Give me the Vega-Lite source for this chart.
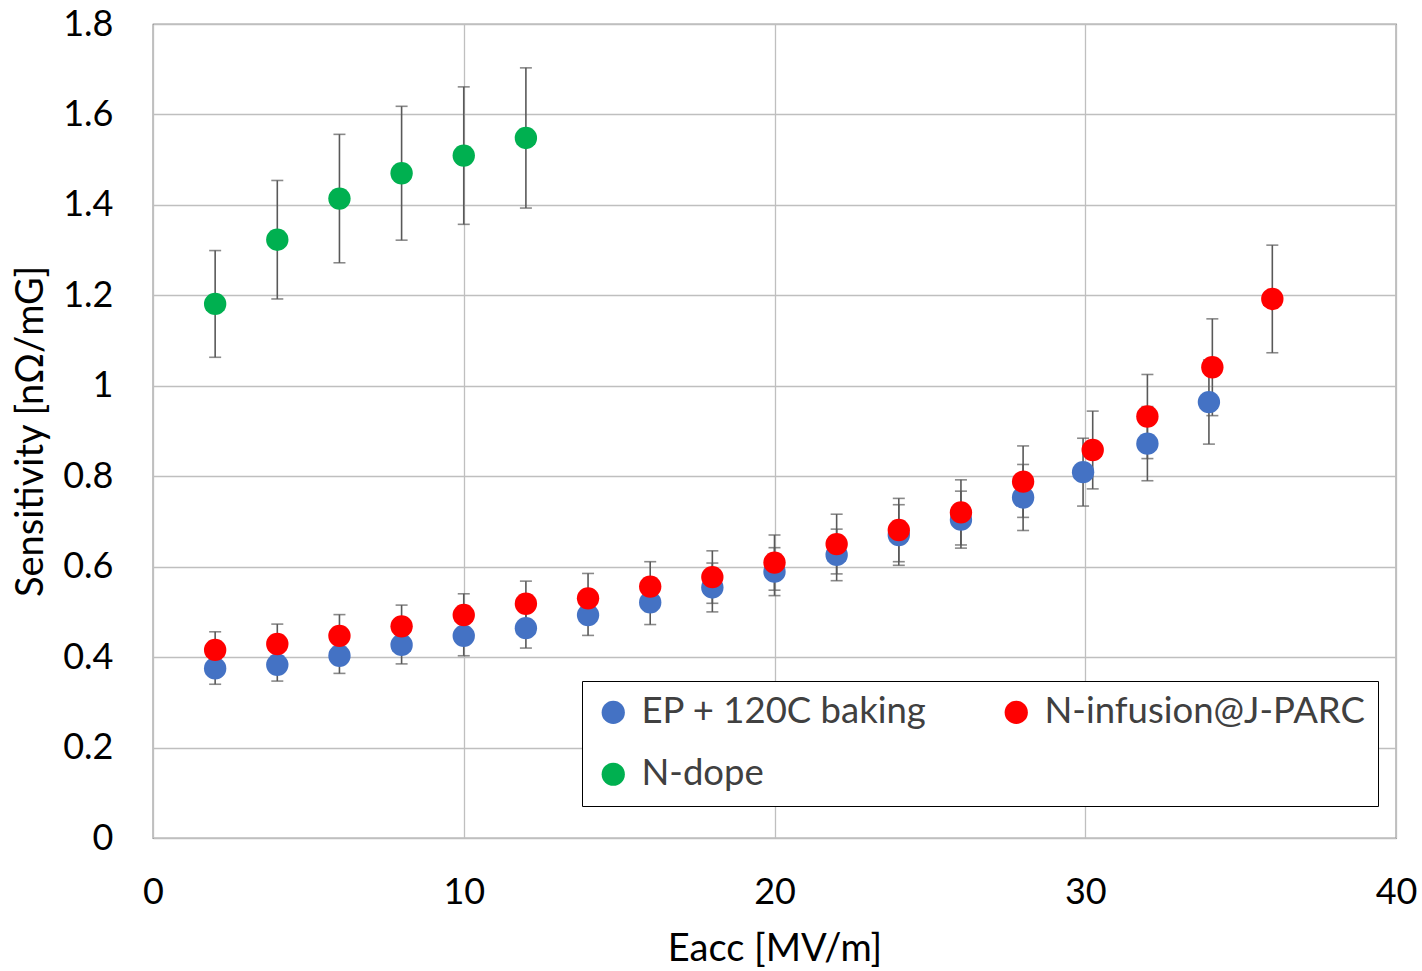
{
  "$schema": "https://vega.github.io/schema/vega-lite/v6.json",
  "autosize": "none",
  "width": 1243,
  "height": 814,
  "padding": {"left": 153, "top": 24, "right": 26, "bottom": 133},
  "background": "white",
  "config": {
    "font": "Lato",
    "view": {"stroke": "#404040", "strokeWidth": 1.2},
    "axis": {
      "labelFont": "Lato",
      "titleFont": "Lato",
      "labelFontSize": 36,
      "titleFontSize": 38,
      "labelColor": "#000000",
      "titleColor": "#000000",
      "titleFontWeight": "normal",
      "gridColor": "#BFBFBF",
      "gridWidth": 1.3,
      "ticks": false,
      "domain": false,
      "labelFlush": false,
      "labelOverlap": false
    }
  },
  "data": {
    "values": [
      {"series": "EP + 120C baking", "eacc": 2, "sens": 0.375, "err": 0.035},
      {"series": "EP + 120C baking", "eacc": 4, "sens": 0.383, "err": 0.036},
      {"series": "EP + 120C baking", "eacc": 6, "sens": 0.403, "err": 0.039},
      {"series": "EP + 120C baking", "eacc": 8, "sens": 0.427, "err": 0.042},
      {"series": "EP + 120C baking", "eacc": 10, "sens": 0.447, "err": 0.044},
      {"series": "EP + 120C baking", "eacc": 12, "sens": 0.464, "err": 0.044},
      {"series": "EP + 120C baking", "eacc": 14, "sens": 0.493, "err": 0.045},
      {"series": "EP + 120C baking", "eacc": 16, "sens": 0.521, "err": 0.049},
      {"series": "EP + 120C baking", "eacc": 18, "sens": 0.554, "err": 0.054},
      {"series": "EP + 120C baking", "eacc": 20, "sens": 0.589, "err": 0.053},
      {"series": "EP + 120C baking", "eacc": 22, "sens": 0.626, "err": 0.057},
      {"series": "EP + 120C baking", "eacc": 24, "sens": 0.670, "err": 0.067},
      {"series": "EP + 120C baking", "eacc": 26, "sens": 0.704, "err": 0.063},
      {"series": "EP + 120C baking", "eacc": 28, "sens": 0.753, "err": 0.073},
      {"series": "EP + 120C baking", "eacc": 29.93, "sens": 0.809, "err": 0.075},
      {"series": "EP + 120C baking", "eacc": 32, "sens": 0.872, "err": 0.082},
      {"series": "EP + 120C baking", "eacc": 33.98, "sens": 0.964, "err": 0.093},
      {"series": "N-infusion@J-PARC", "eacc": 2, "sens": 0.416, "err": 0.040},
      {"series": "N-infusion@J-PARC", "eacc": 4, "sens": 0.429, "err": 0.044},
      {"series": "N-infusion@J-PARC", "eacc": 6, "sens": 0.447, "err": 0.047},
      {"series": "N-infusion@J-PARC", "eacc": 8, "sens": 0.468, "err": 0.047},
      {"series": "N-infusion@J-PARC", "eacc": 10, "sens": 0.493, "err": 0.047},
      {"series": "N-infusion@J-PARC", "eacc": 12, "sens": 0.518, "err": 0.050},
      {"series": "N-infusion@J-PARC", "eacc": 14, "sens": 0.530, "err": 0.055},
      {"series": "N-infusion@J-PARC", "eacc": 16, "sens": 0.556, "err": 0.055},
      {"series": "N-infusion@J-PARC", "eacc": 18, "sens": 0.577, "err": 0.058},
      {"series": "N-infusion@J-PARC", "eacc": 20, "sens": 0.609, "err": 0.061},
      {"series": "N-infusion@J-PARC", "eacc": 22, "sens": 0.650, "err": 0.066},
      {"series": "N-infusion@J-PARC", "eacc": 24, "sens": 0.681, "err": 0.070},
      {"series": "N-infusion@J-PARC", "eacc": 26, "sens": 0.720, "err": 0.072},
      {"series": "N-infusion@J-PARC", "eacc": 28, "sens": 0.788, "err": 0.079},
      {"series": "N-infusion@J-PARC", "eacc": 30.24, "sens": 0.858, "err": 0.086},
      {"series": "N-infusion@J-PARC", "eacc": 32, "sens": 0.932, "err": 0.093},
      {"series": "N-infusion@J-PARC", "eacc": 34.09, "sens": 1.041, "err": 0.107},
      {"series": "N-infusion@J-PARC", "eacc": 36.02, "sens": 1.192, "err": 0.119},
      {"series": "N-dope", "eacc": 2, "sens": 1.181, "err": 0.118},
      {"series": "N-dope", "eacc": 4, "sens": 1.323, "err": 0.131},
      {"series": "N-dope", "eacc": 6, "sens": 1.414, "err": 0.142},
      {"series": "N-dope", "eacc": 8, "sens": 1.470, "err": 0.148},
      {"series": "N-dope", "eacc": 10, "sens": 1.509, "err": 0.152},
      {"series": "N-dope", "eacc": 12, "sens": 1.548, "err": 0.155}
    ]
  },
  "encoding": {
    "x": {
      "field": "eacc",
      "type": "quantitative",
      "scale": {"domain": [0, 40], "nice": false, "zero": false},
      "axis": {"values": [0, 10, 20, 30, 40], "title": "Eacc [MV/m]", "labelPadding": 37, "titlePadding": 20}
    }
  },
  "layer": [
    {
      "mark": {"type": "errorbar", "ticks": {"size": 12, "color": "#595959", "strokeWidth": 1.6}, "color": "#595959", "thickness": 1.6},
      "encoding": {
        "y": {
          "field": "sens",
          "type": "quantitative",
          "scale": {"domain": [0, 1.8], "nice": false},
          "axis": {"values": [0, 0.2, 0.4, 0.6, 0.8, 1, 1.2, 1.4, 1.6, 1.8], "format": "~g", "title": "Sensitivity [nΩ/mG]", "labelPadding": 40, "titlePadding": 12}
        },
        "yError": {"field": "err"}
      }
    },
    {
      "mark": {"type": "point", "filled": true, "shape": "circle", "size": 500, "opacity": 1},
      "encoding": {
        "y": {"field": "sens", "type": "quantitative"},
        "color": {
          "field": "series",
          "type": "nominal",
          "scale": {
            "domain": ["EP + 120C baking", "N-infusion@J-PARC", "N-dope"],
            "range": ["#4472C4", "#FF0000", "#00B050"]
          },
          "legend": {
            "title": null,
            "orient": "none",
            "legendX": 429,
            "legendY": 657,
            "direction": "horizontal",
            "columns": 2,
            "columnPadding": 71,
            "rowPadding": 25,
            "padding": 13,
            "strokeColor": "#000000",
            "fillColor": "#FFFFFF",
            "symbolType": "circle",
            "symbolSize": 540,
            "symbolStrokeWidth": 0,
            "symbolOpacity": 1,
            "labelFont": "Lato",
            "labelFontSize": 36.5,
            "labelColor": "#404040",
            "labelLimit": 600,
            "labelOffset": 10
          }
        }
      }
    }
  ]
}
